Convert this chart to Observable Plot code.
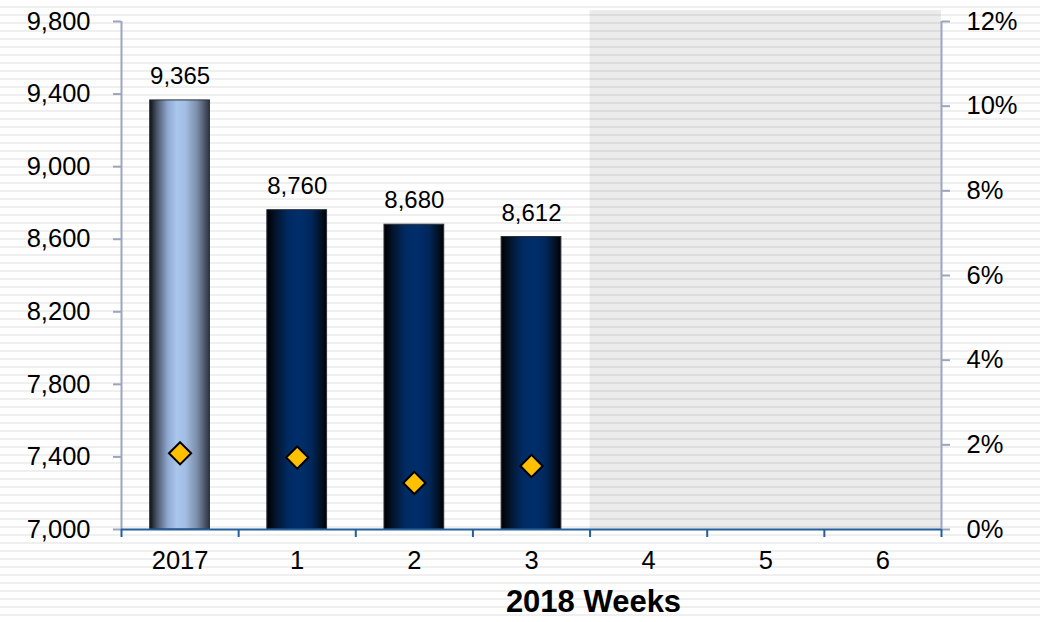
<!DOCTYPE html>
<html><head><meta charset="utf-8">
<script src="https://cdn.jsdelivr.net/npm/d3@7"></script>
<script src="https://cdn.jsdelivr.net/npm/@observablehq/plot@0.6"></script>
<style>
html,body{margin:0;padding:0;}
body{width:1040px;height:622px;overflow:hidden;background:repeating-linear-gradient(to bottom,#ffffff 0px,#ffffff 6px,#efefef 6px,#efefef 8px);font-family:"Liberation Sans",Arial,sans-serif;}
</style></head><body><div id="chart"></div>
<script>
// ---- data ----
const categories = ["2017", "1", "2", "3", "4", "5", "6"];
const barCategories = ["2017", "1", "2", "3"];
const barValues = [9365, 8760, 8680, 8612];
const pctValues = [1.8, 1.7, 1.1, 1.5];
const leftTicks = [7000, 7400, 7800, 8200, 8600, 9000, 9400, 9800];
const rightTicks = [0, 2, 4, 6, 8, 10, 12];
const shadedWeeks = ["4", "5", "6"];
const shadeTop = 9860;
const xTitle = "2018 Weeks";

// ---- layout ----
const W = 1040, H = 622, mL = 121, mR = 99, mT = 21, mB = 93;
const padInner = 0.49;
const step = (W - mL - mR) / categories.length;
const bw = step * (1 - padInner);
const shadeInset = -(step * shadedWeeks.length / 2 - bw / 2);

const bars = barCategories.map((c, i) => ({cat: c, value: barValues[i], pct: pctValues[i]}));
const y0 = leftTicks[0], y1 = leftTicks[leftTicks.length - 1];
const pctMax = rightTicks[rightTicks.length - 1];
const pctToY = p => y0 + p / pctMax * (y1 - y0);
const yToPct = v => (v - y0) / (y1 - y0) * pctMax;
const fmt = d3.format(",");

const axisGray = "#9da4be";
const axisBlue = "#235f9c";

const plot = Plot.plot({
  width: W, height: H,
  marginLeft: mL, marginRight: mR, marginTop: mT, marginBottom: mB,
  style: {background: "transparent", fontFamily: "'Liberation Sans', Arial, sans-serif", color: "#000", overflow: "visible"},
  x: {domain: categories, paddingInner: padInner, paddingOuter: padInner / 2, round: false, axis: null},
  y: {domain: [y0, y1], axis: null},
  marks: [
    Plot.barY([shadedWeeks[Math.floor(shadedWeeks.length / 2)]], {
      x: d => d, y1: y0, y2: shadeTop, fill: "#000", fillOpacity: 0.08,
      insetLeft: shadeInset, insetRight: shadeInset
    }),
    Plot.barY(bars.filter(d => d.cat === categories[0]), {
      x: "cat", y1: y0, y2: "value", fill: "url(#gLight)", stroke: "#2a2f38", strokeWidth: 1
    }),
    Plot.barY(bars.filter(d => d.cat !== categories[0]), {
      x: "cat", y1: y0, y2: "value", fill: "url(#gDark)", stroke: "#2a2f38", strokeWidth: 1
    }),
    Plot.text(bars, {
      x: "cat", y: "value", text: d => fmt(d.value), dy: -24, fontSize: 24, fill: "#000"
    }),
    Plot.dot(bars, {
      x: "cat", y: d => pctToY(d.pct), symbol: "diamond2", r: 10,
      fill: "#ffc000", stroke: "#000", strokeWidth: 2
    }),
    // axis lines
    Plot.ruleX([categories[0]], {x: d => d, y1: y0, y2: y1, dx: -step / 2, stroke: axisGray, strokeWidth: 2}),
    Plot.ruleX([categories[categories.length - 1]], {x: d => d, y1: y0, y2: y1, dx: step / 2, stroke: axisGray, strokeWidth: 2}),
    Plot.ruleY([y0], {stroke: axisBlue, strokeWidth: 2}),
    // left axis
    Plot.axisY({anchor: "left", ticks: leftTicks, tickFormat: fmt, tickSize: 8, tickPadding: 23,
      fontSize: 25.5, stroke: axisGray, strokeWidth: 2, fill: "#000", label: null}),
    // right axis
    Plot.axisY({anchor: "right", ticks: rightTicks.map(pctToY), tickFormat: v => Math.round(yToPct(v)) + "%",
      tickSize: 8, tickPadding: 17, fontSize: 25.5, stroke: axisGray, strokeWidth: 2, fill: "#000", label: null}),
    // bottom axis ticks at band boundaries
    Plot.axisX({anchor: "bottom", tickSize: 8, dx: -step / 2, stroke: axisBlue, strokeWidth: 2, fill: "none", label: null}),
    Plot.axisX({anchor: "bottom", ticks: [categories[categories.length - 1]], tickSize: 8, dx: step / 2, stroke: axisBlue, strokeWidth: 2, fill: "none", label: null}),
    // bottom axis labels
    Plot.axisX({anchor: "bottom", tickSize: 0, tickPadding: 21, fontSize: 25.5, fill: "#000", label: null}),
    // axis title
    Plot.text([xTitle], {frameAnchor: "bottom", text: d => d, dy: 82, dx: 62, fontSize: 31, fontWeight: "bold", fill: "#000"})
  ]
});

const defs = document.createElementNS("http://www.w3.org/2000/svg", "defs");
defs.innerHTML = `
<linearGradient id="gLight" x1="0" y1="0" x2="1" y2="0">
  <stop offset="0" stop-color="#0c1016"/>
  <stop offset="0.12" stop-color="#4a5569"/>
  <stop offset="0.3" stop-color="#8fa8cf"/>
  <stop offset="0.45" stop-color="#a9c6ee"/>
  <stop offset="0.6" stop-color="#a2bde3"/>
  <stop offset="0.8" stop-color="#7a8ba6"/>
  <stop offset="1" stop-color="#2c3440"/>
</linearGradient>
<linearGradient id="gDark" x1="0" y1="0" x2="1" y2="0">
  <stop offset="0" stop-color="#000000"/>
  <stop offset="0.15" stop-color="#04142c"/>
  <stop offset="0.35" stop-color="#002a62"/>
  <stop offset="0.55" stop-color="#002e6c"/>
  <stop offset="0.75" stop-color="#00275a"/>
  <stop offset="0.92" stop-color="#020f20"/>
  <stop offset="1" stop-color="#000000"/>
</linearGradient>`;
plot.prepend(defs);
document.getElementById("chart").appendChild(plot);
</script>
</body></html>
